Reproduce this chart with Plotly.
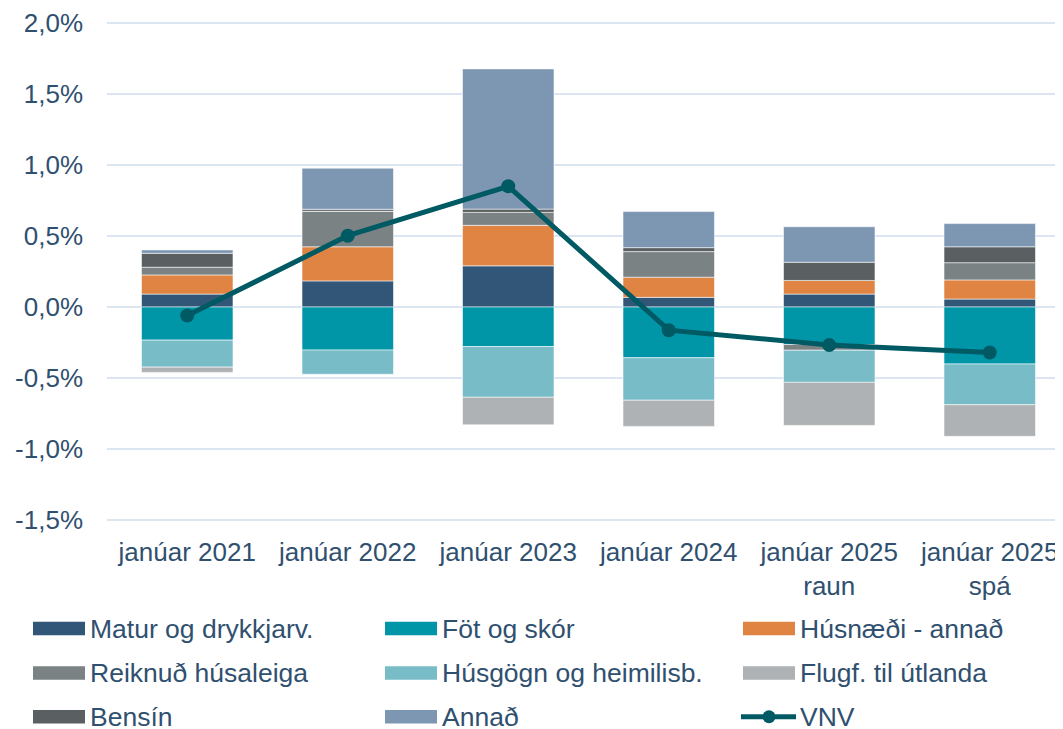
import plotly.graph_objects as go

# ---- Data (percent contributions) ----
categories = ["janúar 2021", "janúar 2022", "janúar 2023", "janúar 2024",
              "janúar 2025<br>raun", "janúar 2025<br>spá"]

matur = [0.091, 0.184, 0.290, 0.068, 0.091, 0.056]
fot = [-0.233, -0.303, -0.278, -0.357, -0.264, -0.401]
husnaedi = [0.135, 0.240, 0.285, 0.142, 0.096, 0.135]
reiknud = [0.054, 0.250, 0.091, 0.180, -0.040, 0.121]
husgogn = [-0.190, -0.170, -0.357, -0.299, -0.226, -0.287]
flugf = [-0.037, 0.000, -0.194, -0.184, -0.303, -0.222]
bensin = [0.098, 0.014, 0.023, 0.028, 0.128, 0.112]
annad = [0.024, 0.289, 0.987, 0.254, 0.250, 0.163]
vnv = [-0.060, 0.502, 0.850, -0.163, -0.268, -0.320]

series_names = ["Matur og drykkjarv.", "Föt og skór", "Húsnæði - annað",
                "Reiknuð húsaleiga", "Húsgögn og heimilisb.", "Flugf. til útlanda",
                "Bensín", "Annað"]
series_values = [matur, fot, husnaedi, reiknud, husgogn, flugf, bensin, annad]
vnv_name = "VNV"

ytick_vals = [-1.5, -1.0, -0.5, 0.0, 0.5, 1.0, 1.5, 2.0]
ytick_text = ["-1,5%", "-1,0%", "-0,5%", "0,0%", "0,5%", "1,0%", "1,5%", "2,0%"]

# ---- Styles ----
colors = ["#325677", "#0096A8", "#E08443", "#7A8283", "#78BCC8", "#AEB2B4",
          "#5A6062", "#7D97B3"]
VNV_COLOR = "#005A64"
TEXT_COLOR = "#30506F"
FONT = "Liberation Sans, Arial, sans-serif"
GRID_COLOR = "#DCE6F2"

# the page body has an 8px default margin; size the figure to fit the window
OFF = 8
W, H = 1063 - OFF, 729 - OFF
L, R, T, B = 99, 0, 10, 206
pw = W - L - R
ph = H - T - B
cat_px = 160.5  # pixel spacing between categories

fig = go.Figure()
for name, vals, col in zip(series_names, series_values, colors):
    fig.add_trace(go.Bar(
        x=categories, y=vals, name=name, width=0.57,
        marker=dict(color=col, line=dict(color="rgba(255,255,255,0.55)", width=1)),
        showlegend=False,
    ))
fig.add_trace(go.Scatter(
    x=categories, y=vnv, name=vnv_name, mode="lines+markers",
    line=dict(color=VNV_COLOR, width=5),
    marker=dict(size=14, color=VNV_COLOR),
    showlegend=False,
))

# ---- Custom legend (3 columns), positions in window pixels ----
def px_x(px):
    return (px - OFF - L) / pw

def px_y(py):
    return (H - B - (py - OFF)) / ph

cols_x = [33, 385, 743]
rows_y = [629, 673.5, 717.5]
sw_w, sw_h = 52, 13.5
legend_entries = series_names + [vnv_name]
shapes, annotations = [], []
for i, name in enumerate(legend_entries):
    r, c = divmod(i, 3)
    x0 = cols_x[c]
    yc = rows_y[r]
    if i < len(series_names):
        shapes.append(dict(type="rect", xref="paper", yref="paper",
                           x0=px_x(x0), x1=px_x(x0 + sw_w),
                           y0=px_y(yc + sw_h / 2), y1=px_y(yc - sw_h / 2),
                           fillcolor=colors[i], line=dict(width=0)))
    else:
        shapes.append(dict(type="line", xref="paper", yref="paper",
                           x0=px_x(x0 - 2), x1=px_x(x0 + sw_w + 1),
                           y0=px_y(yc), y1=px_y(yc),
                           line=dict(color=VNV_COLOR, width=5)))
        shapes.append(dict(type="circle", xref="paper", yref="paper",
                           x0=px_x(x0 + sw_w / 2 - 6.5), x1=px_x(x0 + sw_w / 2 + 6.5),
                           y0=px_y(yc + 6.5), y1=px_y(yc - 6.5),
                           fillcolor=VNV_COLOR, line=dict(width=0)))
    annotations.append(dict(text=name, xref="paper", yref="paper",
                            x=px_x(x0 + sw_w + 3), y=px_y(yc),
                            xanchor="left", yanchor="middle", showarrow=False,
                            font=dict(size=26.5, color=TEXT_COLOR, family=FONT)))

fig.update_layout(
    width=W, height=H,
    margin=dict(l=L, r=R, t=T, b=B, pad=0),
    paper_bgcolor="white", plot_bgcolor="white",
    barmode="relative",
    font=dict(family=FONT, color=TEXT_COLOR, size=26),
    showlegend=False,
    shapes=shapes,
    annotations=annotations,
    xaxis=dict(type="category", range=[-0.5, -0.5 + pw / cat_px],
               showgrid=False, showline=False, zeroline=False, ticks="",
               tickfont=dict(size=26, color=TEXT_COLOR, family=FONT),
               ticklabelstandoff=11),
    yaxis=dict(range=[-1.52, 2.02], tickvals=ytick_vals, ticktext=ytick_text,
               showgrid=True, gridcolor=GRID_COLOR, gridwidth=1.5,
               zeroline=False, showline=False, ticks="",
               ticklabeloverflow="allow",
               tickfont=dict(size=26, color=TEXT_COLOR, family=FONT),
               ticklabelstandoff=23),
)

fig.write_html("out.html")
